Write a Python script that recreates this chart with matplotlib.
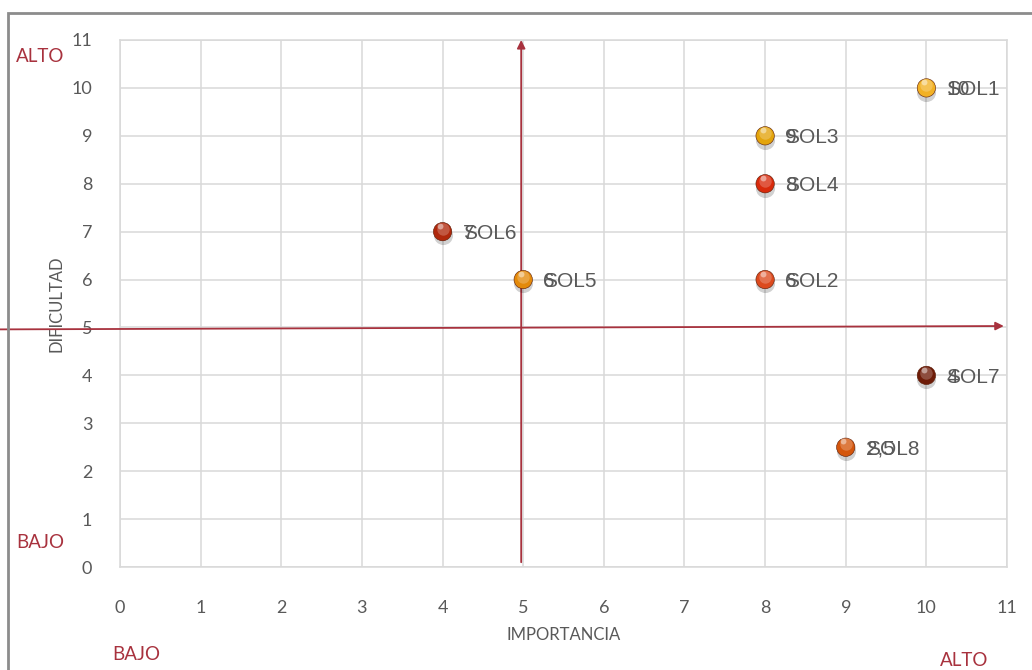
import matplotlib.pyplot as plt
from matplotlib.patches import Rectangle

# soluciones: importancia (x), dificultad (y)
nombres = ["SOL1", "SOL2", "SOL3", "SOL4", "SOL5", "SOL6", "SOL7", "SOL8"]
importancia = [10, 8, 8, 8, 5, 4, 10, 9]
dificultad = [10, 6, 9, 8, 6, 7, 4, 2.5]
colores = ["#F2B124", "#DC4A1E", "#E3A40C", "#D82A0C",
           "#E48A0A", "#B0280C", "#6E1C08", "#D4560C"]

ticks = list(range(0, 12))
texto = "#595959"
rojo = "#A8323E"

plt.rcParams['font.family'] = ['Lato', 'DejaVu Sans']

fig = plt.figure(figsize=(10.32, 6.70), dpi=100)
ax = fig.add_axes([0.1163, 0.1537, 0.8595, 0.7866])

ax.set_xlim(0, 11)
ax.set_ylim(0, 11)
ax.set_xticks(ticks)
ax.set_yticks(ticks)
ax.grid(True, color="#D9D9D9", linewidth=1.1)
ax.set_axisbelow(True)
for s in ax.spines.values():
    s.set_color("#D9D9D9")
    s.set_linewidth(1.1)
ax.tick_params(length=0, labelsize=13, labelcolor=texto)
ax.tick_params(axis='x', pad=24)
ax.tick_params(axis='y', pad=20)

ax.set_xlabel("IMPORTANCIA", color=texto, fontsize=12, labelpad=8)
ax.set_ylabel("DIFICULTAD", color=texto, fontsize=12, labelpad=5)

# ejes de cuadrantes
ax.annotate("", xy=(4.975, 11.0), xytext=(4.975, 0.1),
            arrowprops=dict(arrowstyle="-|>", color=rojo, lw=1.3,
                            mutation_scale=12, shrinkA=0, shrinkB=0),
            annotation_clip=False, zorder=3)
ax.annotate("", xy=(10.96, 5.03), xytext=(-1.49, 4.96),
            arrowprops=dict(arrowstyle="-|>", color=rojo, lw=1.3,
                            mutation_scale=12, shrinkA=0, shrinkB=0),
            annotation_clip=False, zorder=3)

# puntos con efecto de esfera
ax.scatter(importancia, [d - 0.08 for d in dificultad], s=190,
           color="#000000", alpha=0.18, linewidths=0, zorder=4)
ax.scatter(importancia, dificultad, s=175, c=colores,
           edgecolors="#5a1a05", linewidths=0.4, zorder=5)
ax.scatter(importancia, [d + 0.06 for d in dificultad], s=80,
           color="white", alpha=0.22, linewidths=0, zorder=6)
ax.scatter([x - 0.03 for x in importancia], [d + 0.12 for d in dificultad],
           s=18, color="white", alpha=0.45, linewidths=0, zorder=7)

# etiquetas: nombre y valor superpuestos
fuente = ['Liberation Sans', 'DejaVu Sans']
for n, x, y in zip(nombres, importancia, dificultad):
    ax.annotate(n, (x, y), xytext=(20, -2), textcoords="offset pixels",
                ha="left", va="center", fontsize=15, color=texto,
                family=fuente, zorder=8)
    ax.annotate(f"{y:g}".replace(".", ","), (x, y), xytext=(20, -2),
                textcoords="offset pixels", ha="left", va="center",
                fontsize=15, color=texto, family=fuente, zorder=8)

# rótulos ALTO / BAJO
fig.text(16 / 1032, 1 - 56 / 670, "ALTO", color=rojo, fontsize=13.5,
         ha="left", va="center")
fig.text(16 / 1032, 1 - 542 / 670, "BAJO", color=rojo, fontsize=13.5,
         ha="left", va="center")
fig.text(112 / 1032, 1 - 655 / 670, "BAJO", color=rojo, fontsize=13.5,
         ha="left", va="center")
fig.text(940 / 1032, 1 - 660 / 670, "ALTO", color=rojo, fontsize=13.5,
         ha="left", va="center")

# marco del gráfico
fig.patches.append(Rectangle((8 / 1032, -0.1), 1.2, 1.1 - 13 / 670,
                             transform=fig.transFigure, fill=False,
                             edgecolor="#8C8C8C", linewidth=2))

fig.savefig("out.png", dpi=100)
